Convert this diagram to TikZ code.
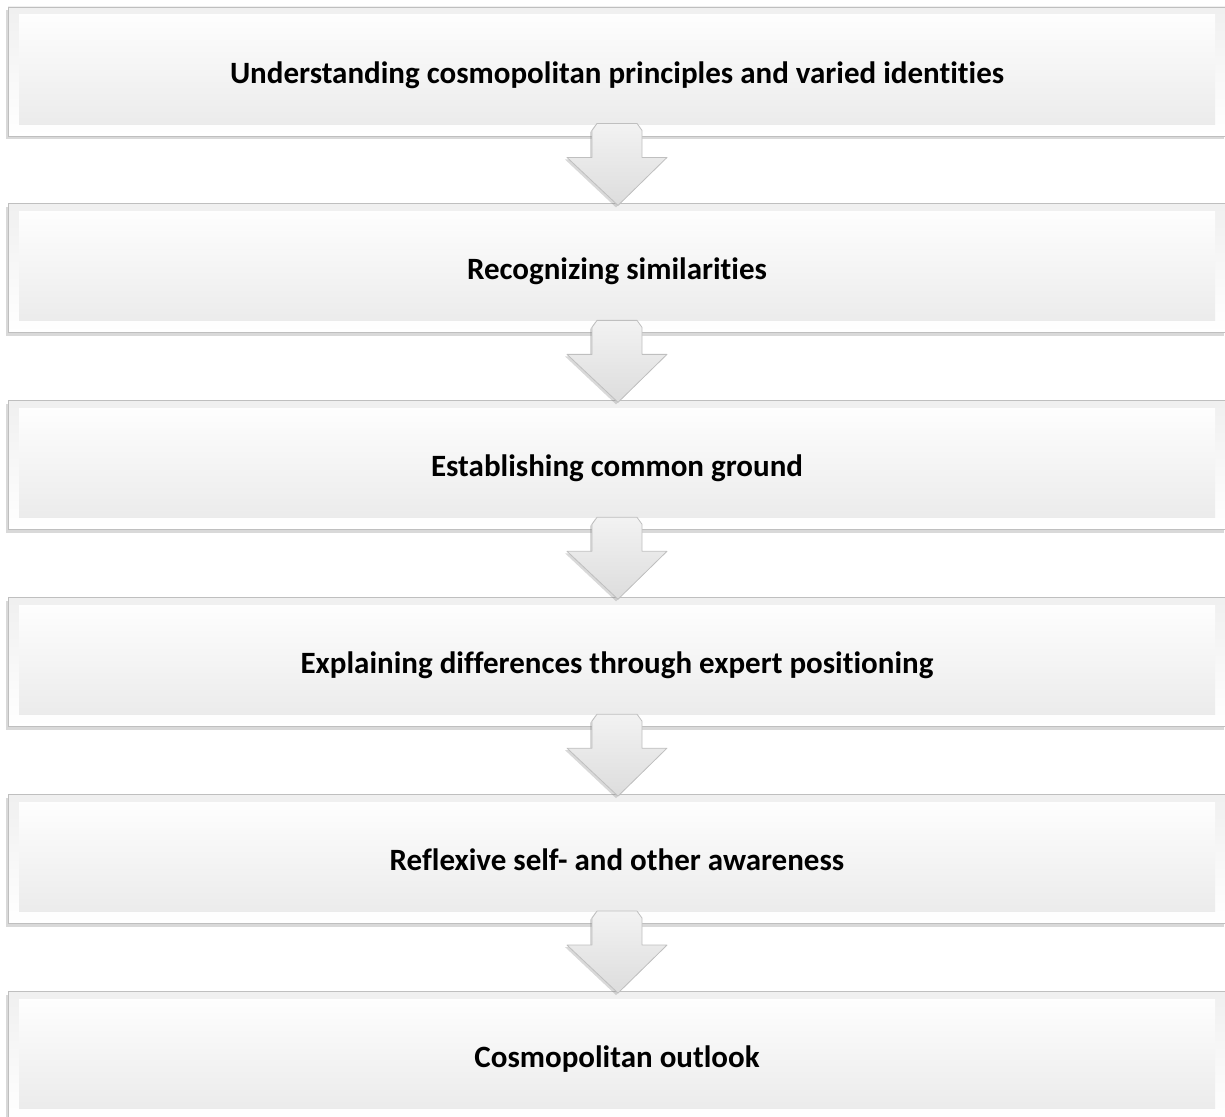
\documentclass[tikz,border=0pt]{standalone}
\usepackage{fontspec}
\setmainfont{Carlito}[Ligatures=NoCommon]
\usepackage{tikz}
\usetikzlibrary{positioning, calc, shadows}

% down arrow between two stages
\newcommand{\flowarrow}[2]{%
  \path[flowarr]
    ($(#1.south)+(-20,13)$) -- ($(#1.south)+(20,13)$)
    -- ($(#1.south)+(25,6)$) -- ($(#1.south)+(25,-21)$)
    -- ($(#1.south)+(50,-21)$) -- ($(#2.north)+(1,-2)$)
    -- ($(#1.south)+(-50,-21)$) -- ($(#1.south)+(-25,-21)$)
    -- ($(#1.south)+(-25,6)$) -- cycle;}

\begin{document}
\begin{tikzpicture}[
  x=1pt, y=1pt,
  node distance=67pt,
  stagebox/.style={
    rectangle, draw=gray!50, line width=0.9pt,
    top color=gray!12, bottom color=white,
    minimum width=1218pt, minimum height=129pt,
    text height=30pt, text depth=7pt,
    font=\fontsize{31}{37}\selectfont\bfseries,
    drop shadow={shadow xshift=-2pt, shadow yshift=-3pt, opacity=0.3},
    path picture={
      \shade[top color=white, bottom color=gray!17]
        ($(path picture bounding box.north west)+(11,-8)$)
        rectangle ($(path picture bounding box.south east)+(-11,12)$);}},
  flowarr/.style={
    draw=gray!50, line width=0.8pt, line join=round,
    top color=gray!10, bottom color=gray!27,
    drop shadow={shadow xshift=-2pt, shadow yshift=-2pt, opacity=0.3}}
]
\useasboundingbox (0,0) rectangle (1225,-1116);

%% Stages
\node[stagebox] (b1) at (617,-71.5)
  {Understanding cosmopolitan principles and varied identities};
\node[stagebox, below=of b1] (b2) {Recognizing similarities};
\node[stagebox, below=of b2] (b3) {Establishing common ground};
\node[stagebox, below=of b3] (b4) {Explaining differences through expert positioning};
\node[stagebox, below=of b4] (b5) {Reflexive self- and other awareness};
\node[stagebox, below=of b5] (b6) {Cosmopolitan outlook};

%% Arrows
\flowarrow{b1}{b2}
\flowarrow{b2}{b3}
\flowarrow{b3}{b4}
\flowarrow{b4}{b5}
\flowarrow{b5}{b6}

\end{tikzpicture}
\end{document}
